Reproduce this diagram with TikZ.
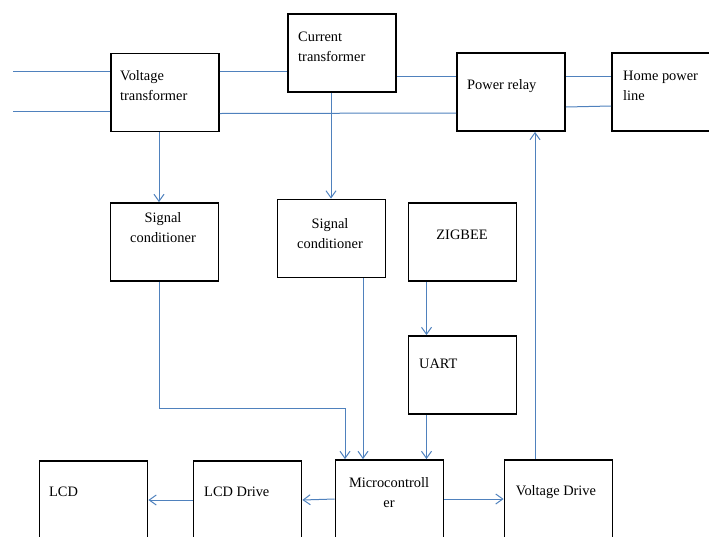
\documentclass[tikz,border=0pt]{standalone}
\usepackage{fontspec}
\setmainfont{Liberation Serif}
\usetikzlibrary{arrows.meta}
\definecolor{wireblue}{RGB}{79,129,189}

\begin{document}
\begin{tikzpicture}[x=1pt, y=-1pt,
  every node/.style={font=\fontsize{14.4}{20}\selectfont},
  blk/.style={draw, line width=1.8pt, minimum width=108pt, minimum height=78pt, inner sep=0pt},
  lbl/.style={inner sep=0pt, anchor=north west, align=left},
  clbl/.style={inner sep=0pt, anchor=north, align=center},
  wire/.style={draw=wireblue, line width=1pt},
  sig/.style={wire, -{Straight Barb[length=7pt, width=10pt]}}]
  \path[use as bounding box, clip] (0,0) rectangle (709,536);

  % blocks
  \node[blk] (vt) at (165,92.5) {};
  \node[blk] (ct) at (342,53) {};
  \node[blk] (pr) at (511,92) {};
  \node[blk] (hpl) at (666,92) {};
  \node[blk] (sc1) at (164.5,242) {};
  \node[blk] (sc2) at (331.5,238.5) {};
  \node[blk] (zb) at (462.5,242) {};
  \node[blk] (uart) at (462.5,375) {};
  \node[blk] (lcd) at (93.5,500) {};
  \node[blk] (lcdd) at (247.5,500) {};
  \node[blk] (mc) at (389.5,499) {};
  \node[blk] (vd) at (558.5,499) {};

  % labels
  \node[lbl] (vt-t) at (120,70) {Voltage\\transformer};
  \node[lbl] (ct-t) at (298,32) {Current\\transformer};
  \node[lbl] (pr-t) at (467,79) {Power relay};
  \node[lbl] (hpl-t) at (623,71) {Home power\\line};
  \node[clbl] (sc1-t) at (163,212) {Signal\\conditioner};
  \node[clbl] (sc2-t) at (330,218) {Signal\\conditioner};
  \node[clbl] (zb-t) at (462,230) {ZIGBEE};
  \node[lbl] (uart-t) at (419,359) {UART};
  \node[lbl] (lcd-t) at (49,487) {LCD};
  \node[lbl] (lcdd-t) at (204,487) {LCD Drive};
  \node[clbl] (mc-t) at (389,477) {Microcontroll\\er};
  \node[clbl] (vd-t) at (556,485) {Voltage Drive};

  % power wiring
  \coordinate (in1) at (13,71);
  \coordinate (in2) at (13,111);
  \coordinate (pr-hi) at ([yshift=16pt]pr.west);
  \draw[wire] (in1) -- (vt.west |- in1);
  \draw[wire] (in2) -- (vt.west |- in2);
  \draw[wire] (vt.east |- in1) -- (ct.west |- in1);
  \draw[wire] (ct.east |- pr-hi) -- (pr-hi);
  \draw[wire] ([yshift=-21pt]vt.east) -- ([yshift=-21pt]pr.west);
  \draw[wire] ([yshift=16pt]pr.east) -- ([yshift=16pt]hpl.west);
  \draw[wire] ([yshift=-15pt]pr.east) -- ([yshift=-14pt]hpl.west);

  % signal paths
  \coordinate (vt-o) at ([xshift=-6pt]vt.south);
  \coordinate (ct-o) at ([xshift=-11pt]ct.south);
  \coordinate (sc1-o) at ([xshift=-5.5pt]sc1.south);
  \coordinate (sc2-o) at ([xshift=31.5pt]sc2.south);
  \coordinate (zb-o) at ([xshift=-36pt]zb.south);
  \coordinate (mc-i1) at ([xshift=-44.5pt]mc.north);
  \coordinate (vd-o) at ([xshift=-23.5pt]vd.north);
  \draw[sig] (vt-o) -- (vt-o |- sc1.north);
  \draw[sig] (ct-o) -- (ct-o |- sc2.north);
  \draw[sig] (sc1-o) -- ++(0,127) -| (mc-i1);
  \draw[sig] (sc2-o) -- (sc2-o |- mc.north);
  \draw[sig] (zb-o) -- (zb-o |- uart.north);
  \draw[sig] (zb-o |- uart.south) -- (zb-o |- mc.north);
  \draw[sig] (mc.west) -- (lcdd.east);
  \draw[sig] (lcdd.west) -- (lcd.east);
  \draw[sig] (mc.east) -- (vd.west);
  \draw[sig] (vd-o) -- (vd-o |- pr.south);
\end{tikzpicture}
\end{document}
